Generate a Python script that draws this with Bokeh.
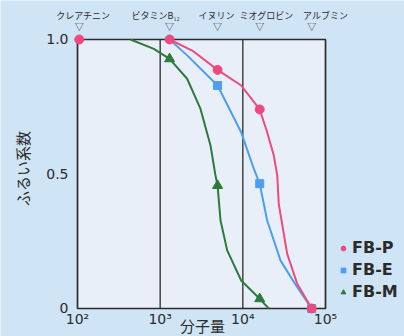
from bokeh.plotting import figure
from bokeh.models import (Range1d, FixedTicker, LogAxis, Legend, LegendItem, BoxAnnotation)
from bokeh.embed import file_html
from bokeh.resources import INLINE

# ---------------- data ----------------
molecules = ["クレアチニン", "ビタミンB₁₂", "イヌリン", "ミオグロビン", "アルブミン"]
mol_weight = [105, 1300, 4950, 16000, 68000]

x_ticks = [100, 1000, 10000, 100000]
x_tick_labels = ["10²", "10³", "10⁴", "10⁵"]
y_ticks = [0, 0.5, 1]
y_tick_labels = ["0", "0.5", "1.0"]

# measured points (markers)
fbp_mw = [105, 1300, 4950, 16000, 68000]
fbp_sc = [1.0, 1.0, 0.887, 0.740, 0.0]
fbe_mw = [4950, 16000, 68000]
fbe_sc = [0.829, 0.464, 0.0]
fbm_mw = [1300, 4950, 16000]
fbm_sc = [0.928, 0.457, 0.036]

# curves
fbp_curve_mw = [1300, 2440, 4950, 9550, 16000, 19700, 23700, 26100, 27200, 34400, 45500, 68000]
fbp_curve_sc = [1.0, 0.959, 0.887, 0.829, 0.740, 0.655, 0.569, 0.494, 0.389, 0.203, 0.092, 0.0]
fbe_curve_mw = [1300, 2120, 4950, 9550, 13600, 16000, 19700, 28600, 45500, 68000]
fbe_curve_sc = [1.0, 0.941, 0.829, 0.655, 0.519, 0.464, 0.327, 0.178, 0.079, 0.0]
fbm_curve_mw = [438, 838, 1300, 2120, 3076, 4064, 4670, 4950, 5370, 6470, 9550, 16000, 20600]
fbm_curve_sc = [1.0, 0.965, 0.928, 0.854, 0.742, 0.606, 0.494, 0.457, 0.327, 0.216, 0.104, 0.036, 0.0]

series_names = ["FB-P", "FB-E", "FB-M"]

# ---------------- layout / styling ----------------
# where each molecule name is centred (the names are shifted off their ▽ to avoid overlap)
name_label_mw = [117, 880, 4800, 19300, 100000]

PINK = "#ee4a7e"
BLUE = "#4c9ff0"
GREEN = "#2d7a3c"
TEXT = "#2b2b2b"
PAGE = "#cfe4f4"
PANEL = "#e9eff8"
JP = "Noto Sans CJK JP"

# frame covers the whole canvas; the chart box is drawn as an annotation
p = figure(width=404, height=336, x_axis_type="log",
           x_range=Range1d(11.71, 903000), y_range=Range1d(-0.10409, 1.14498),
           output_backend="svg", toolbar_location=None,
           min_border_left=0, min_border_right=0, min_border_top=0, min_border_bottom=0)
p.background_fill_color = PAGE
p.border_fill_color = PAGE
p.outline_line_color = None
p.xgrid.visible = False
p.ygrid.visible = False

p.add_layout(BoxAnnotation(left=x_ticks[0], right=x_ticks[-1], bottom=y_ticks[0], top=y_ticks[-1],
                           fill_color=PANEL, fill_alpha=1, line_color=TEXT, line_alpha=1,
                           line_width=1.7, level="underlay"))
inner = x_ticks[1:-1]
p.segment(x0=inner, x1=inner, y0=[y_ticks[0]] * len(inner), y1=[y_ticks[-1]] * len(inner),
          line_color=TEXT, line_width=1.3)

# axes, pinned to the chart box edges
p.xaxis.fixed_location = y_ticks[0]
p.yaxis.fixed_location = x_ticks[0]
p.xaxis.ticker = FixedTicker(ticks=x_ticks)
p.xaxis.major_label_overrides = {t: l for t, l in zip(x_ticks, x_tick_labels)}
p.yaxis.ticker = FixedTicker(ticks=y_ticks)
p.yaxis.major_label_overrides = {t: l for t, l in zip(y_ticks, y_tick_labels)}
for ax in (p.xaxis[0], p.yaxis[0]):
    ax.axis_line_color = None
    ax.major_tick_line_color = None
    ax.minor_tick_line_color = None
    ax.major_label_text_font = "DejaVu Sans"
    ax.major_label_text_font_size = "14px"
    ax.major_label_text_color = TEXT
    ax.axis_label_text_font = JP
    ax.axis_label_text_font_size = "15px"
    ax.axis_label_text_font_style = "normal"
    ax.axis_label_text_color = TEXT
p.xaxis.major_label_standoff = -3
p.xaxis.axis_label = "分子量"
p.xaxis.axis_label_standoff = -16
p.yaxis.major_label_standoff = 3
p.yaxis.axis_label = "ふるい系数"
p.yaxis.axis_label_standoff = 10

# molecule names and ▽ marks on top (extra axes)
name_axis = LogAxis(ticker=FixedTicker(ticks=name_label_mw), fixed_location=y_ticks[-1],
                    major_label_overrides={w: n for w, n in zip(name_label_mw, molecules)},
                    axis_line_color=None, major_tick_line_color=None, minor_tick_line_color=None,
                    major_label_text_font=JP, major_label_text_font_size="9px",
                    major_label_text_color=TEXT, major_label_standoff=11)
mark_axis = LogAxis(ticker=FixedTicker(ticks=mol_weight), fixed_location=y_ticks[-1],
                    major_label_overrides={w: "▽" for w in mol_weight},
                    axis_line_color=None, major_tick_line_color=None, minor_tick_line_color=None,
                    major_label_text_font=JP, major_label_text_font_size="9px",
                    major_label_text_color=TEXT, major_label_standoff=0)
p.add_layout(name_axis, "above")
p.add_layout(mark_axis, "above")

# curves
p.line(fbm_curve_mw, fbm_curve_sc, line_color=GREEN, line_width=2)
p.line(fbe_curve_mw, fbe_curve_sc, line_color=BLUE, line_width=2)
p.line(fbp_curve_mw, fbp_curve_sc, line_color=PINK, line_width=2)

rm = p.scatter(fbm_mw, fbm_sc, marker="triangle", size=10, fill_color=GREEN, line_color=GREEN)
re = p.scatter(fbe_mw, fbe_sc, marker="square", size=8, fill_color=BLUE, line_color=BLUE)
rp = p.scatter(fbp_mw, fbp_sc, marker="circle", size=9, fill_color=PINK, line_color=PINK)

legend = Legend(items=[LegendItem(label=series_names[0], renderers=[rp]),
                       LegendItem(label=series_names[1], renderers=[re]),
                       LegendItem(label=series_names[2], renderers=[rm])],
                location=(337, 35), label_text_font="DejaVu Sans",
                label_text_font_style="bold", label_text_font_size="16px",
                label_text_color=TEXT, glyph_width=12, glyph_height=16, label_height=16,
                spacing=3, padding=0, margin=0, label_standoff=3,
                background_fill_alpha=0, border_line_color=None)
p.add_layout(legend)

open("out.html", "w").write(file_html(p, INLINE))
